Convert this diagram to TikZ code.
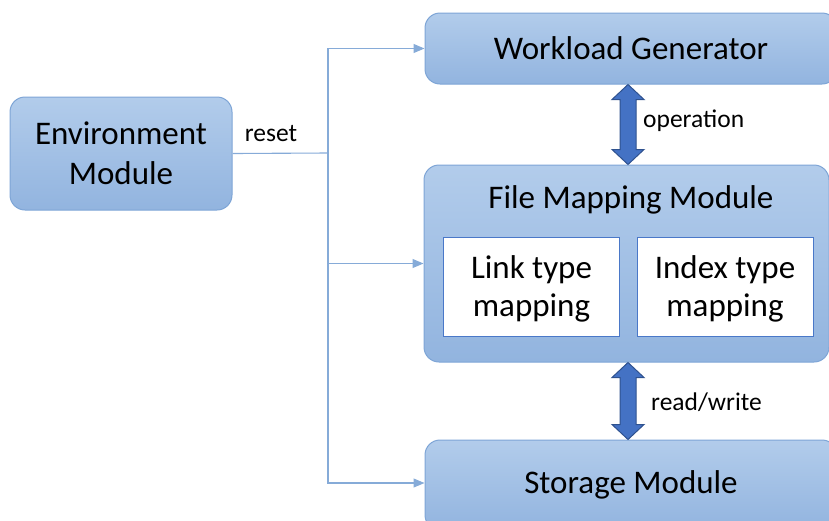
\documentclass[tikz,border=0pt]{standalone}
\usepackage{fontspec}
\setmainfont{Carlito}
\usetikzlibrary{calc,arrows.meta}
\definecolor{boxtop}{HTML}{B2CCEB}
\definecolor{boxbot}{HTML}{92B4DF}
\definecolor{boxline}{HTML}{7EA5D6}
\definecolor{wire}{HTML}{86ABD8}
\definecolor{fatfill}{HTML}{4472C4}
\definecolor{fatline}{HTML}{2F528F}
\definecolor{innerline}{HTML}{4A78C8}

\begin{document}
\begin{tikzpicture}[x=1pt,y=-1pt,
  module/.style={draw=boxline, line width=1pt, rounded corners=15pt,
    top color=boxtop, bottom color=boxbot, align=center, text=black,
    font=\fontsize{33}{40}\selectfont, inner sep=0pt},
  submap/.style={draw=innerline, line width=1pt, fill=white,
    inner sep=0pt, minimum width=176pt, minimum height=99pt},
  subtext/.style={align=center, font=\fontsize{33}{38}\selectfont, inner sep=0pt},
  title/.style={font=\fontsize{33}{40}\selectfont, inner sep=0pt},
  lbl/.style={font=\fontsize{25.5}{30}\selectfont, inner sep=0pt},
  wire/.style={draw=wire, line width=1.1pt},
  wirearrow/.style={wire, -{Triangle[length=11pt,width=9pt]}},
  fatarrow/.style={draw=fatline, fill=fatfill, line width=1pt, line join=miter}
]
\useasboundingbox (0,0) rectangle (829,520);
\begin{scope}
\clip (0,0) rectangle (829,520);

% modules
\node[module, minimum width=222pt, minimum height=113pt] (env) at (121,153.5)
  {Environment\\Module};
\node[module, minimum width=412pt, minimum height=71pt] (wg) at (631,48.5)
  {Workload Generator};
\node[module, minimum width=405pt, minimum height=197pt] (fm) at (626.5,263.5) {};
\node[title] (fmt) at (631,199.5) {File Mapping Module};
\node[submap] (link) at (531.5,286.5) {};
\node[subtext] (linkt) at ($(link.center)+(0,2)$) {Link type\\mapping};
\node[submap] (index) at (725,286.5) {};
\node[subtext] (indext) at ($(index.center)+(0,2)$) {Index type\\mapping};
\node[module, minimum width=412pt, minimum height=90pt] (st) at (631,485)
  {\raisebox{5pt}{Storage Module}};

% reset bus
\coordinate (bus) at (328,153);
\draw[wire] (env.east) -- (bus);
\draw[wirearrow] (bus) |- (wg.west);
\draw[wirearrow] (bus) |- (fm.west);
\draw[wirearrow] (bus) |- ($(st.west)+(0,-2)$);
\node[lbl] (reset) at (271,134) {reset};

% block arrows between the stack
\coordinate (a1) at ($(wg.south)+(-3,0)$);
\coordinate (b1) at ($(fm.north)+(1.5,0)$);
\draw[fatarrow] (a1) -- ($(a1)+(16,15)$) -- ($(a1)+(8,15)$) -- ($(b1)+(8,-15)$)
  -- ($(b1)+(16,-15)$) -- (b1) -- ($(b1)+(-16,-15)$) -- ($(b1)+(-8,-15)$)
  -- ($(a1)+(-8,15)$) -- ($(a1)+(-16,15)$) -- cycle;
\node[lbl, anchor=west] (op) at (643,121) {operation};

\coordinate (a2) at ($(fm.south)+(1.5,0)$);
\coordinate (b2) at ($(st.north)+(-3,0)$);
\draw[fatarrow] (a2) -- ($(a2)+(16,15)$) -- ($(a2)+(8,15)$) -- ($(b2)+(8,-15)$)
  -- ($(b2)+(16,-15)$) -- (b2) -- ($(b2)+(-16,-15)$) -- ($(b2)+(-8,-15)$)
  -- ($(a2)+(-8,15)$) -- ($(a2)+(-16,15)$) -- cycle;
\node[lbl, anchor=west] (rw) at (651,402) {read/write};
\end{scope}
\end{tikzpicture}
\end{document}
